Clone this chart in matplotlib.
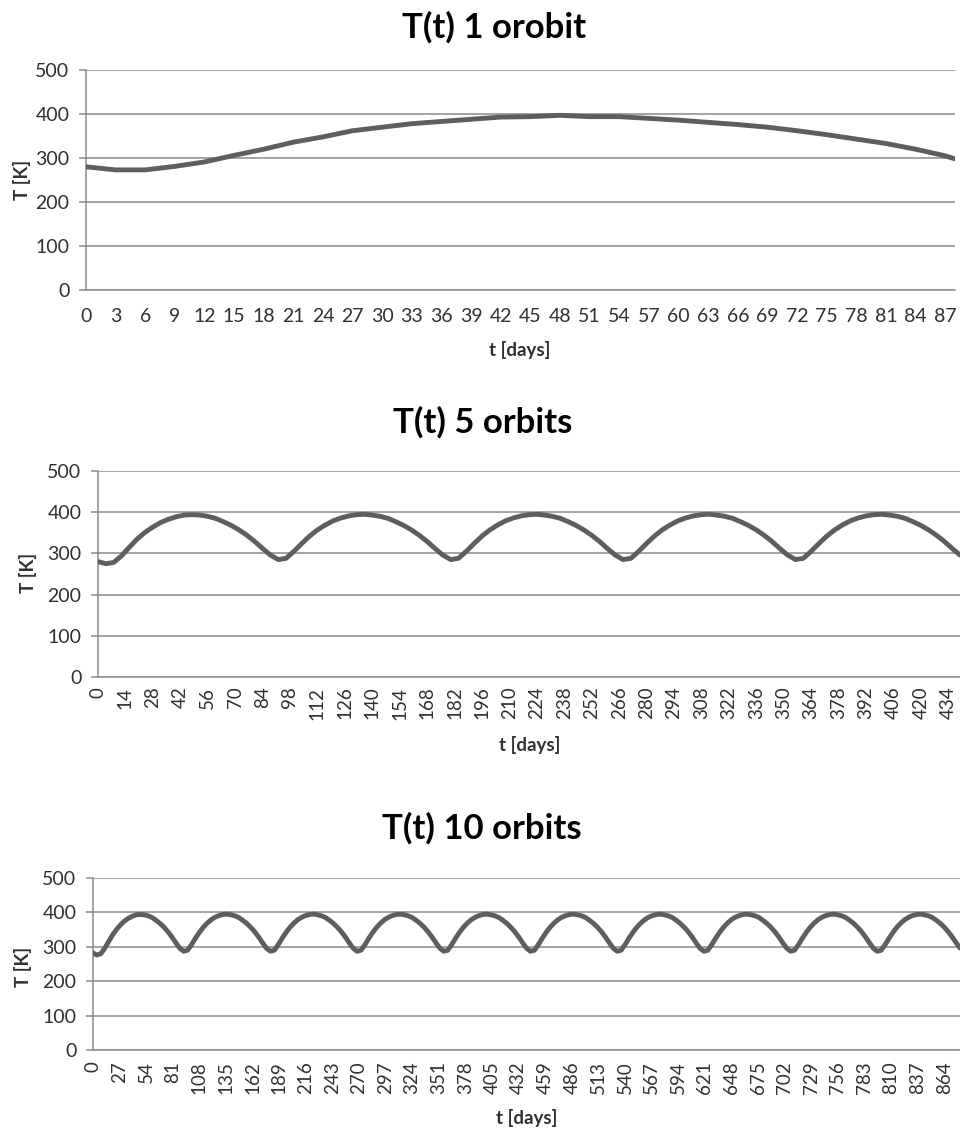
import matplotlib.pyplot as plt
import numpy as np

plt.rcParams['font.family'] = ['Lato', 'DejaVu Sans']

# one orbit, sampled every 3 days (last point day 88)
days_1 = [0, 3, 6, 9, 12, 15, 18, 21, 24, 27, 30, 33, 36, 39, 42, 45, 48, 51,
          54, 57, 60, 63, 66, 69, 72, 75, 78, 81, 84, 87, 88]
temp_1 = [280, 273, 273, 281, 291, 306, 320, 336, 348, 362, 370, 378, 383, 388,
          393, 394, 397, 394, 394, 390, 386, 381, 376, 370, 362, 353, 343, 333,
          320, 305, 298]

# 5 orbits, sampled every 4 days (one orbit per row)
days_5 = np.arange(0, 441, 4)
temp_5 = [
    280, 275, 278, 294, 315, 335, 351, 364, 375, 383, 389, 393, 394, 393, 390, 385, 377, 368, 357, 344, 329, 312,
    296, 285, 288, 305, 324, 342, 357, 369, 379, 386, 391, 394, 395, 393, 390, 385, 377, 368, 357, 344, 329, 312,
    296, 285, 288, 305, 324, 342, 357, 369, 379, 386, 391, 394, 395, 393, 390, 385, 377, 368, 357, 344, 329, 312,
    296, 285, 288, 305, 324, 342, 357, 369, 379, 386, 391, 394, 395, 393, 390, 385, 377, 368, 357, 344, 329, 312,
    296, 285, 288, 305, 324, 342, 357, 369, 379, 386, 391, 394, 395, 393, 390, 385, 377, 368, 357, 344, 329, 312,
    296,
]

# 10 orbits, sampled every 4 days (one orbit per row)
days_10 = np.arange(0, 881, 4)
temp_10 = [
    282, 276, 280, 296, 316, 335, 351, 364, 375, 383, 389, 393, 394, 393, 390, 385, 377, 368, 357, 344, 329, 312,
    296, 287, 290, 306, 325, 342, 357, 369, 379, 386, 391, 394, 395, 393, 390, 385, 377, 368, 357, 344, 329, 312,
    296, 287, 290, 306, 325, 342, 357, 369, 379, 386, 391, 394, 395, 393, 390, 385, 377, 368, 357, 344, 329, 312,
    296, 287, 290, 306, 325, 342, 357, 369, 379, 386, 391, 394, 395, 393, 390, 385, 377, 368, 357, 344, 329, 312,
    296, 287, 290, 306, 325, 342, 357, 369, 379, 386, 391, 394, 395, 393, 390, 385, 377, 368, 357, 344, 329, 312,
    296, 287, 290, 306, 325, 342, 357, 369, 379, 386, 391, 394, 395, 393, 390, 385, 377, 368, 357, 344, 329, 312,
    296, 287, 290, 306, 325, 342, 357, 369, 379, 386, 391, 394, 395, 393, 390, 385, 377, 368, 357, 344, 329, 312,
    296, 287, 290, 306, 325, 342, 357, 369, 379, 386, 391, 394, 395, 393, 390, 385, 377, 368, 357, 344, 329, 312,
    296, 287, 290, 306, 325, 342, 357, 369, 379, 386, 391, 394, 395, 393, 390, 385, 377, 368, 357, 344, 329, 312,
    296, 287, 290, 306, 325, 342, 357, 369, 379, 386, 391, 394, 395, 393, 390, 385, 377, 368, 357, 344, 329, 312,
    296,
]

y_ticks = [0, 100, 200, 300, 400, 500]

W, H = 960, 1132
GRID = '#8a8a8a'
LINE = '#5e5e5e'
TEXT = '#303030'


def px_box(left, top, right, bottom):
    return [left / W, 1 - bottom / H, (right - left) / W, (bottom - top) / H]


def draw_panel(rect, days, temps, xmax, xticks, rotate, title, title_xy,
               xlabel_xy, ylabel_xy, xpad):
    ax = fig.add_axes(px_box(*rect))
    ax.plot(days, temps, color=LINE, lw=3.5, solid_capstyle='round',
            solid_joinstyle='round', zorder=3)
    ax.set_xlim(0, xmax)
    ax.set_ylim(0, 500)
    ax.set_yticks(y_ticks)
    ax.set_xticks(xticks)
    ax.grid(axis='y', color=GRID, lw=1.1)
    ax.set_axisbelow(True)
    for side in ('top', 'right'):
        ax.spines[side].set_visible(False)
    for side in ('left', 'bottom'):
        ax.spines[side].set_color(GRID)
        ax.spines[side].set_linewidth(1.1)
    ax.tick_params(axis='y', length=5, width=1.1, color=GRID, pad=7,
                   labelsize=14, labelcolor=TEXT)
    ax.tick_params(axis='x', length=0, pad=xpad,
                   labelsize=13.5 if rotate else 14,
                   labelcolor=TEXT, labelrotation=90 if rotate else 0)

    fig.text(title_xy[0] / W, 1 - title_xy[1] / H, title, ha='center',
             va='center', fontsize=25, fontweight='bold', color='black')
    fig.text(xlabel_xy[0] / W, 1 - xlabel_xy[1] / H, 't [days]', ha='center',
             va='center', fontsize=13.5, fontweight='bold', color=TEXT)
    fig.text(ylabel_xy[0] / W, 1 - ylabel_xy[1] / H, 'T [K]', ha='center',
             va='center', rotation=90, fontsize=13.5, fontweight='bold',
             color=TEXT)
    return ax


fig = plt.figure(figsize=(W / 100, H / 100), dpi=100)

draw_panel((86, 70, 955, 290), days_1, temp_1, 88, np.arange(0, 88, 3), False,
           'T(t) 1 orobit', (494, 27), (520, 350), (22, 180), 13)
draw_panel((98, 471, 960, 677), days_5, temp_5, 440, np.arange(0, 435, 14), True,
           'T(t) 5 orbits', (483, 422), (530, 745), (28, 573), 7)
draw_panel((93, 878, 960, 1050), days_10, temp_10, 880, np.arange(0, 865, 27), True,
           'T(t) 10 orbits', (482, 828), (527, 1118), (23, 967), 8)

fig.savefig('out.png', dpi=100, facecolor='white')
